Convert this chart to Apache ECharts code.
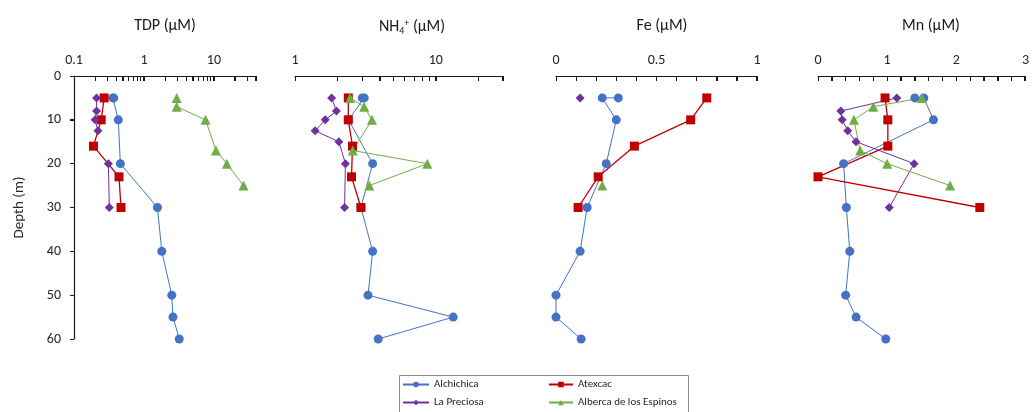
<!DOCTYPE html>
<html>
<head>
<meta charset="utf-8">
<script src="https://cdn.jsdelivr.net/npm/echarts@6/dist/echarts.min.js"></script>
<style>
html,body{margin:0;padding:0;background:#fff;}
#chart{width:1032px;height:412px;}
</style>
</head>
<body>
<div id="chart"></div>
<script>
// ---- Data ----
const lakes = ['Alchichica', 'Atexcac', 'La Preciosa', 'Alberca de los Espinos'];
const depthAlchichica = [5, 5, 10, 20, 30, 40, 50, 55, 60];
const depthAtexcac = [5, 10, 16, 23, 30];
const depthPreciosa = [5, 8, 10, 12.5, 15, 20, 30];
const depthAlberca = [5, 7, 10, 17, 20, 25];

// TDP (µM)
const tdpAlchichica = [0.36, 0.37, 0.43, 0.46, 1.56, 1.8, 2.5, 2.6, 3.2];
const tdpAtexcac = [0.27, 0.245, 0.19, 0.44, 0.47];
const tdpPreciosa = [0.21, 0.21, 0.20, 0.22, null, 0.31, 0.32];
const tdpAlberca = [2.94, 2.94, 7.6, 10.7, 15.3, 26.5];

// NH4+ (µM)
const nh4Alchichica = [3.0, 3.1, 2.4, 3.56, 2.94, 3.56, 3.3, 13.3, 3.9];
const nh4Atexcac = [2.39, 2.39, 2.56, 2.52, 2.94];
const nh4Preciosa = [1.82, 1.97, 1.64, 1.39, 2.05, 2.28, 2.25];
const nh4Alberca = [2.46, 3.1, 3.52, 2.57, 8.7, 3.37];

// Fe (µM)
const feAlchichica = [0.31, 0.23, 0.30, 0.25, 0.155, 0.12, 0, 0, 0.125];
const feAtexcac = [0.75, 0.67, 0.39, 0.21, 0.11];
const fePreciosa = [0.12, null, null, null, null, null, null];
const feAlberca = [null, null, null, null, null, 0.23];

// Mn (µM)
const mnAlchichica = [1.40, 1.53, 1.67, 0.37, 0.41, 0.46, 0.40, 0.55, 0.98];
const mnAtexcac = [0.97, 1.01, 1.01, 0.0, 2.34];
const mnPreciosa = [1.14, 0.33, 0.35, 0.43, 0.55, 1.39, 1.03];
const mnAlberca = [1.50, 0.80, 0.52, 0.61, 1.0, 1.91];

// Axis ticks / labels
const tdpTicks = [0.1,0.2,0.3,0.4,0.5,0.6,0.7,0.8,0.9,1,2,3,4,5,6,7,8,9,10,20,30,40];
const tdpLabels = [0.1, 1, 10];
const nh4Ticks = [1,2,3,4,5,6,7,8,9,10,20,30];
const nh4Labels = [1, 10];
const feTicks = [0,0.1,0.2,0.3,0.4,0.5,0.6,0.7,0.8,0.9,1];
const feLabels = [0, 0.5, 1];
const mnTicks = [0,0.2,0.4,0.6,0.8,1,1.2,1.4,1.6,1.8,2,2.2,2.4,2.6,2.8,3];
const mnLabels = [0, 1, 2, 3];
const depthTicks = [0, 10, 20, 30, 40, 50, 60];

// ---- Build ----
const depths = [depthAlchichica, depthAtexcac, depthPreciosa, depthAlberca];
const panels = [
  [tdpAlchichica, tdpAtexcac, tdpPreciosa, tdpAlberca],
  [nh4Alchichica, nh4Atexcac, nh4Preciosa, nh4Alberca],
  [feAlchichica, feAtexcac, fePreciosa, feAlberca],
  [mnAlchichica, mnAtexcac, mnPreciosa, mnAlberca]
];
const colors = ['#4472C4', '#C00000', '#7030A0', '#70AD47'];
const symbols = ['circle', 'rect', 'diamond', 'triangle'];
const symbolSizes = [9, 9, 9, 10];
const FONT = "Carlito, 'Liberation Sans', Arial, sans-serif";
const AXIS_COLOR = '#141414';

const grids = [
  {left: 74, right: 776}, {left: 295, right: 529}, {left: 556, right: 275}, {left: 818, right: 4}
].map(g => ({left: g.left, right: g.right, top: 76, bottom: 73}));

function fmt(v) { return String(Math.round(v * 1000) / 1000); }

const axisDefs = [
  {type: 'log', min: 0.1, max: 40, ticks: tdpTicks, labels: tdpLabels},
  {type: 'log', min: 1, max: 30, ticks: nh4Ticks, labels: nh4Labels},
  {type: 'value', min: 0, max: 1, ticks: feTicks, labels: feLabels},
  {type: 'value', min: 0, max: 3, ticks: mnTicks, labels: mnLabels}
];
const xAxes = axisDefs.map((a, i) => ({
  type: a.type, min: a.min, max: a.max, gridIndex: i, position: 'top',
  axisLine: {show: true, onZero: false, lineStyle: {color: AXIS_COLOR}},
  splitLine: {show: false},
  axisLabel: {fontSize: 14, color: '#262626', fontFamily: FONT, margin: 9, formatter: fmt, customValues: a.labels},
  axisTick: {show: true, inside: true, length: 5, lineStyle: {color: AXIS_COLOR}, customValues: a.ticks}
}));

const yAxes = [0, 1, 2, 3].map(i => ({
  type: 'value', gridIndex: i, min: 0, max: 60, interval: 10, inverse: true,
  show: i === 0,
  name: 'Depth (m)', nameLocation: 'middle', nameGap: 47, nameRotate: 90,
  nameTextStyle: {fontSize: 15, color: '#262626', fontFamily: FONT},
  axisLine: {show: true, onZero: false, lineStyle: {color: AXIS_COLOR}},
  axisTick: {show: true, inside: false, length: 4, lineStyle: {color: AXIS_COLOR}},
  axisLabel: {fontSize: 14, color: '#262626', fontFamily: FONT, margin: 13},
  splitLine: {show: false}
}));

const series = [];
panels.forEach((panel, p) => {
  panel.forEach((vals, l) => {
    series.push({
      name: lakes[l], type: 'line', xAxisIndex: p, yAxisIndex: p,
      data: depths[l].map((d, k) => [vals[k] === null ? '-' : vals[k], d]),
      connectNulls: false,
      symbol: symbols[l], symbolSize: symbolSizes[l], showSymbol: true,
      itemStyle: {color: colors[l]},
      lineStyle: {color: colors[l], width: l === 1 ? 1.3 : 1},
      emphasis: {disabled: true}, animation: false, z: 3
    });
  });
});

const titleStyle = {fontSize: 16, fontWeight: 'normal', color: '#1a1a1a', fontFamily: FONT,
  rich: {
    sub: {fontSize: 10, fontFamily: FONT, color: '#1a1a1a', verticalAlign: 'bottom', padding: [8, 0, 0, 0]},
    sup: {fontSize: 10, fontFamily: FONT, color: '#1a1a1a', verticalAlign: 'top', padding: [0, 0, 6, 0]},
    n: {fontSize: 16, fontFamily: FONT, color: '#1a1a1a'}
  }
};
const titles = [
  {text: 'TDP (µM)', x: 160},
  {text: '{n|NH}{sub|4}{sup|+}{n| (µM)}', x: 407},
  {text: 'Fe (µM)', x: 657},
  {text: 'Mn (µM)', x: 926}
].map(t => ({text: t.text, left: t.x, top: 13, textAlign: 'center', textStyle: titleStyle}));

const legendText = {fontSize: 11, color: '#262626', fontFamily: FONT};
const option = {
  animation: false,
  title: titles,
  grid: grids,
  xAxis: xAxes,
  yAxis: yAxes,
  legend: [
    {data: ['Alchichica', 'La Preciosa'], left: 402, top: 379, orient: 'vertical',
     itemWidth: 26, itemHeight: 7, itemGap: 7, textStyle: legendText, padding: 0, selectedMode: false},
    {data: ['Atexcac', 'Alberca de los Espinos'], left: 548, top: 379, orient: 'vertical',
     itemWidth: 24, itemHeight: 7, itemGap: 7, textStyle: legendText, padding: 0, selectedMode: false}
  ],
  series: series
};

const chart = echarts.init(document.getElementById('chart'), null, {renderer: 'canvas'});
chart.setOption(option);

// Backup axis lines / tick marks, placed through the chart's own axis scales
const graphics = [{
  type: 'rect', silent: true, z: 1,
  shape: {x: 399.5, y: 375.5, width: 289, height: 50},
  style: {fill: 'none', stroke: '#8c8c8c', lineWidth: 1}
}];
function bar(x, y, w, h) {
  graphics.push({type: 'rect', silent: true, z: 2, shape: {x: x, y: y, width: w, height: h},
    style: {fill: 'rgb(25,25,25)', stroke: 'none'}});
}
axisDefs.forEach((a, i) => {
  const yTop = chart.convertToPixel({yAxisIndex: i}, 0);
  const xa = chart.convertToPixel({xAxisIndex: i}, a.min);
  const xb = chart.convertToPixel({xAxisIndex: i}, a.max);
  const yl = Math.round(yTop) + 0.5;
  bar(xa, yl - 0.6, xb - xa, 1.2);
  a.ticks.forEach(t => {
    const px = chart.convertToPixel({xAxisIndex: i}, t);
    bar(Math.min(Math.round(px - 0.5), Math.round(xb) - 1), Math.round(yTop), 1, 5);
  });
});
{
  const x0 = chart.convertToPixel({xAxisIndex: 0}, axisDefs[0].min);
  const ya = chart.convertToPixel({yAxisIndex: 0}, depthTicks[0]);
  const yb = chart.convertToPixel({yAxisIndex: 0}, depthTicks[depthTicks.length - 1]);
  const xl = Math.round(x0) + 0.5;
  bar(xl - 0.6, ya, 1.2, yb - ya);
  depthTicks.forEach(d => {
    const py = chart.convertToPixel({yAxisIndex: 0}, d);
    bar(Math.round(x0) - 4, Math.round(py - 0.5), 4, 1);
  });
}
chart.setOption({graphic: graphics});
</script>
</body>
</html>
